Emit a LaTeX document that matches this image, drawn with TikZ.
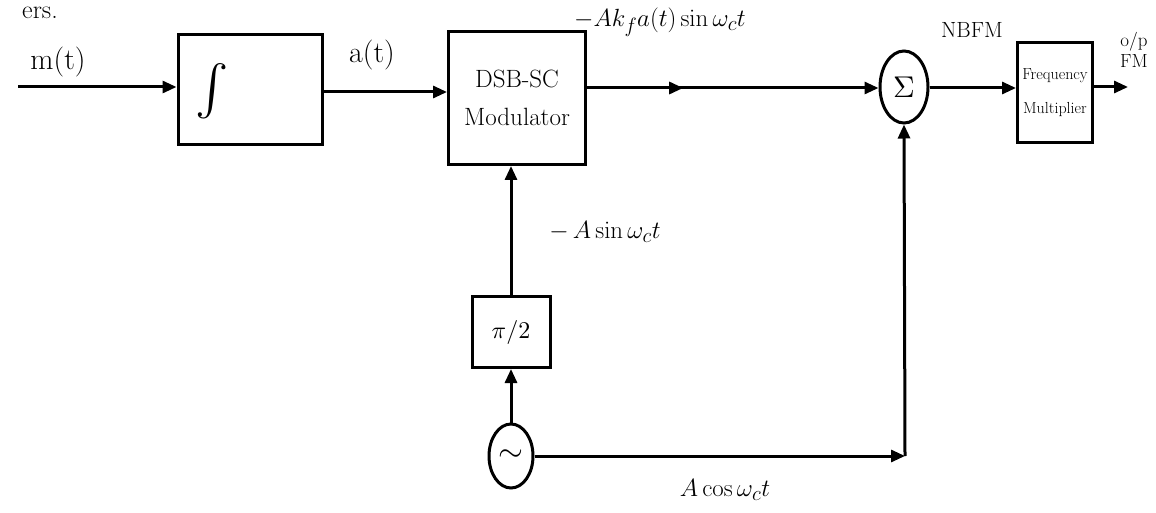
\documentclass[tikz,border=0pt]{standalone}
\usetikzlibrary{arrows.meta,shapes.geometric,decorations.markings}
\begin{document}
\begin{tikzpicture}[x=1pt,y=-1pt,
  line width=3pt,
  arr/.style={-{Triangle[length=14pt,width=12pt]}},
  blk/.style={draw,rectangle,inner sep=0pt,align=center},
  oval/.style={draw,ellipse,inner sep=0pt},
  lbl/.style={font=\fontsize{30}{34}\selectfont,inner sep=0pt},
  midarrow/.style={postaction={decorate},decoration={markings,
    mark=at position 0.33 with {\arrow{Triangle[length=14pt,width=12pt]}}}}]
\useasboundingbox (0,0) rectangle (1156,513);

% blocks
\node[blk,minimum width=144pt,minimum height=110pt] (integ) at (250,90) {};
\node[inner sep=0pt] (intsym) at (212,91) {\scalebox{5}{$\int$}};
\node[blk,minimum width=137pt,minimum height=133pt,
  font=\fontsize{25}{32}\selectfont] (dsb) at (517,98)
  {DSB-SC\\[6pt]Modulator};
\node[oval,minimum width=48pt,minimum height=72pt] (sum) at (904,87)
  {\scalebox{3}{$\Sigma$}};
\node[blk,minimum width=75pt,minimum height=100pt,
  font=\fontsize{16}{20}\selectfont] (fm) at (1055,93)
  {Frequency\\[14pt]Multiplier};
\node[blk,minimum width=78pt,minimum height=71pt] (phase) at (511,332)
  {\scalebox{2.4}{$\pi/2$}};
\node[oval,minimum width=44pt,minimum height=64pt] (osc) at (511,456)
  {\scalebox{3.2}{$\sim$}};

\coordinate (in) at (18,87);
\coordinate (out) at (1128,87);
\coordinate (corner) at (905,456);

% signal path
\draw[arr] (in) -- (in -| integ.west);
\draw[arr] (integ.east |- 0,92) -- (dsb.west |- 0,92);
\draw[midarrow,arr] (dsb.east |- 0,88) -- (sum.west |- 0,88);
\draw[arr] (sum.east |- 0,88) -- (fm.west |- 0,88);
\draw[arr] (fm.east |- 0,87) -- (out);
\draw[arr] (phase.north) -- (phase.north |- dsb.south);
\draw[arr] (osc.north) -- (phase.south);
\draw[arr] (osc.east) -- (corner);
\draw[arr] (corner) -- (sum.south);

% labels
\node[lbl,font=\fontsize{26}{28}\selectfont] at (40,13) {ers.};
\node[lbl] at (58,62) {m(t)};
\node[lbl] at (372,55) {a(t)};
\node[lbl] at (660,22) {$-Ak_f a(t)\sin\omega_c t$};
\node[lbl] at (605,232) {$-\,A\sin\omega_c t$};
\node[lbl] at (725,490) {$A\cos\omega_c t$};
\node[lbl,font=\fontsize{22}{24}\selectfont] at (972,30) {NBFM};
\node[lbl,font=\fontsize{19}{21}\selectfont,align=center] at (1134,50) {o/p\\FM};
\end{tikzpicture}
\end{document}
